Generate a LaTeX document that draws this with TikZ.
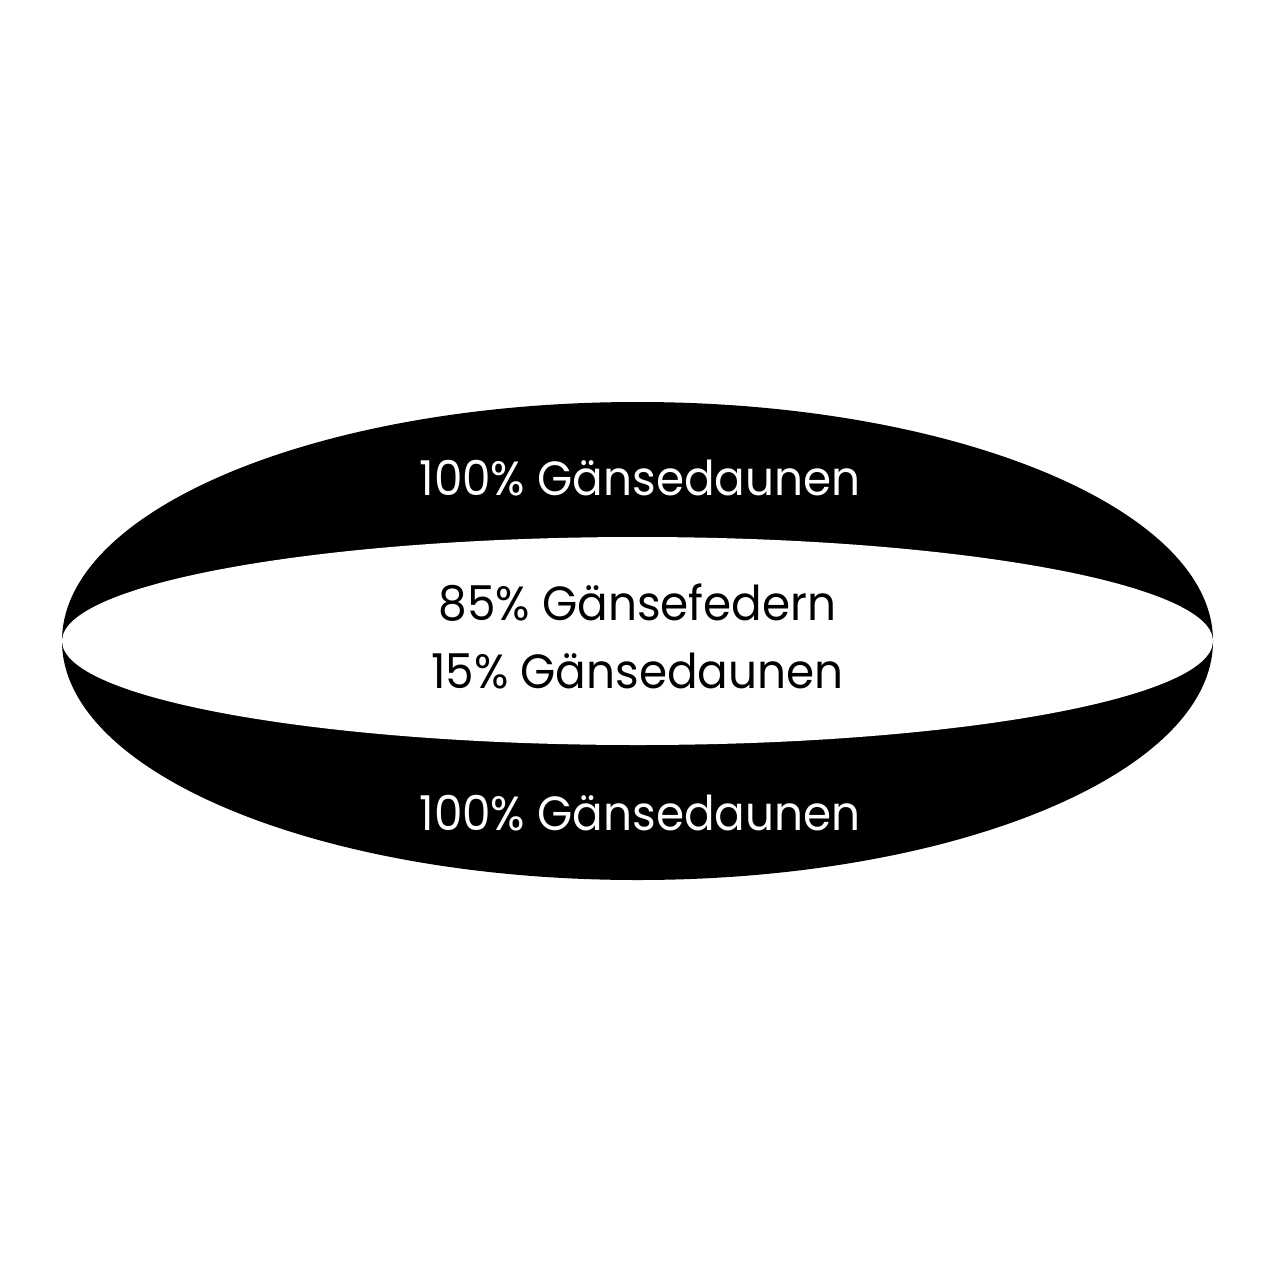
\documentclass[tikz,border=0pt]{standalone}
\usepackage{fontspec}
\setmainfont[FakeStretch=0.944]{Poppins}
\begin{document}
\begin{tikzpicture}[x=0.5pt,y=-0.5pt,
  lbl/.style={anchor=base,inner sep=0pt,font=\fontsize{24}{28}\selectfont}]
\useasboundingbox (0,0) rectangle (1280,1280);
\fill[white] (0,0) rectangle (1280,1280);
\fill[black] (637.5,641) ellipse [x radius=575.5, y radius=239];
\fill[white] (637.5,641) ellipse [x radius=575.5, y radius=104];
\node[lbl,text=white] (t1) at (640,495) {100\% Gänsedaunen};
\node[lbl] (t2) at (637.5,620) {85\% Gänsefedern};
\node[lbl] (t3) at (637.5,688) {15\% Gänsedaunen};
\node[lbl,text=white] (t4) at (640,830) {100\% Gänsedaunen};
\end{tikzpicture}
\end{document}
